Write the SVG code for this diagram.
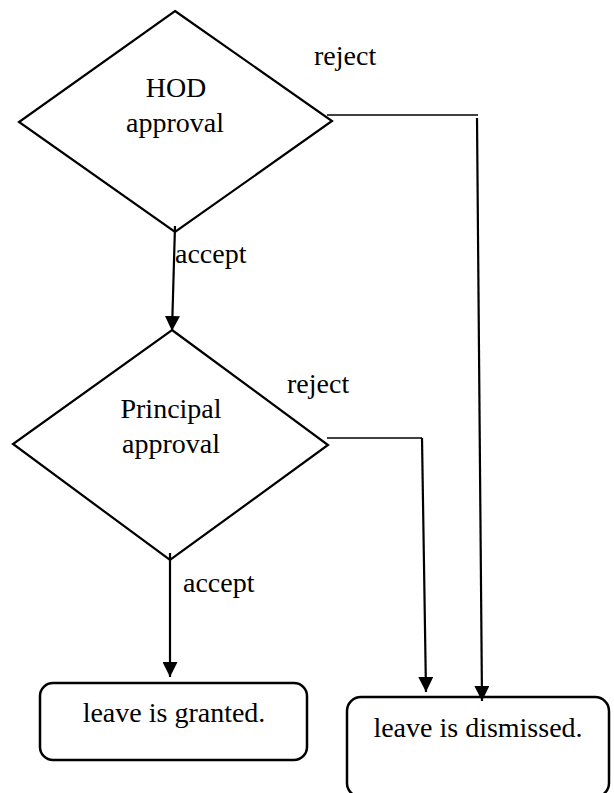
<svg xmlns="http://www.w3.org/2000/svg" width="614" height="793" viewBox="0 0 614 793">
  <style>
    .shape { fill: #fff; stroke: #000; stroke-width: 2.2; stroke-linejoin: miter; }
    .box { fill: #fff; stroke: #000; stroke-width: 2.5; }
    .txt { font-family: "Liberation Serif", "Times New Roman", serif; font-size: 28px; fill: #000; }
    .mid { text-anchor: middle; }
    .conn { fill: none; stroke: #000; stroke-width: 2.2; }
    .thin { fill: none; stroke: #000; stroke-width: 1.5; }
  </style>
  <defs>
    <marker id="arrow" markerUnits="userSpaceOnUse" markerWidth="15" markerHeight="15" refX="15" refY="7.5" orient="auto">
      <path d="M0,0 L15,7.5 L0,15 z" fill="#000"/>
    </marker>
  </defs>
  <rect width="614" height="793" fill="#fff"/>

  <g id="hod">
    <polygon class="shape" points="175,11 332,121 175,232 19,122"/>
    <text class="txt mid" x="176" y="97">HOD</text>
    <text class="txt mid" x="175" y="132">approval</text>
  </g>

  <g id="principal">
    <polygon class="shape" points="172,330 328,445 170,560 13,444"/>
    <text class="txt mid" x="171" y="418">Principal</text>
    <text class="txt mid" x="171" y="453">approval</text>
  </g>

  <g id="granted">
    <rect class="box" x="40" y="683" width="267" height="77" rx="13" ry="13"/>
    <text class="txt mid" x="174" y="722">leave is granted.</text>
  </g>

  <g id="dismissed">
    <rect class="box" x="347" y="697" width="262" height="100" rx="14" ry="14"/>
    <text class="txt mid" x="478" y="737">leave is dismissed.</text>
  </g>

  <g id="connectors">
    <line class="conn" x1="175" y1="226" x2="172" y2="331" marker-end="url(#arrow)"/>
    <line class="conn" x1="170" y1="553" x2="170" y2="677" marker-end="url(#arrow)"/>
    <line class="thin" x1="327" y1="115" x2="478" y2="115"/>
    <line class="conn" x1="477" y1="118" x2="482" y2="701" marker-end="url(#arrow)"/>
    <polyline class="thin" points="327,438 422,438"/>
    <line class="conn" x1="422" y1="438" x2="426" y2="692" marker-end="url(#arrow)"/>
  </g>

  <g id="labels">
    <text class="txt" x="314" y="65">reject</text>
    <text class="txt" x="175" y="263">accept</text>
    <text class="txt" x="287" y="393">reject</text>
    <text class="txt" x="183" y="592">accept</text>
  </g>
</svg>
